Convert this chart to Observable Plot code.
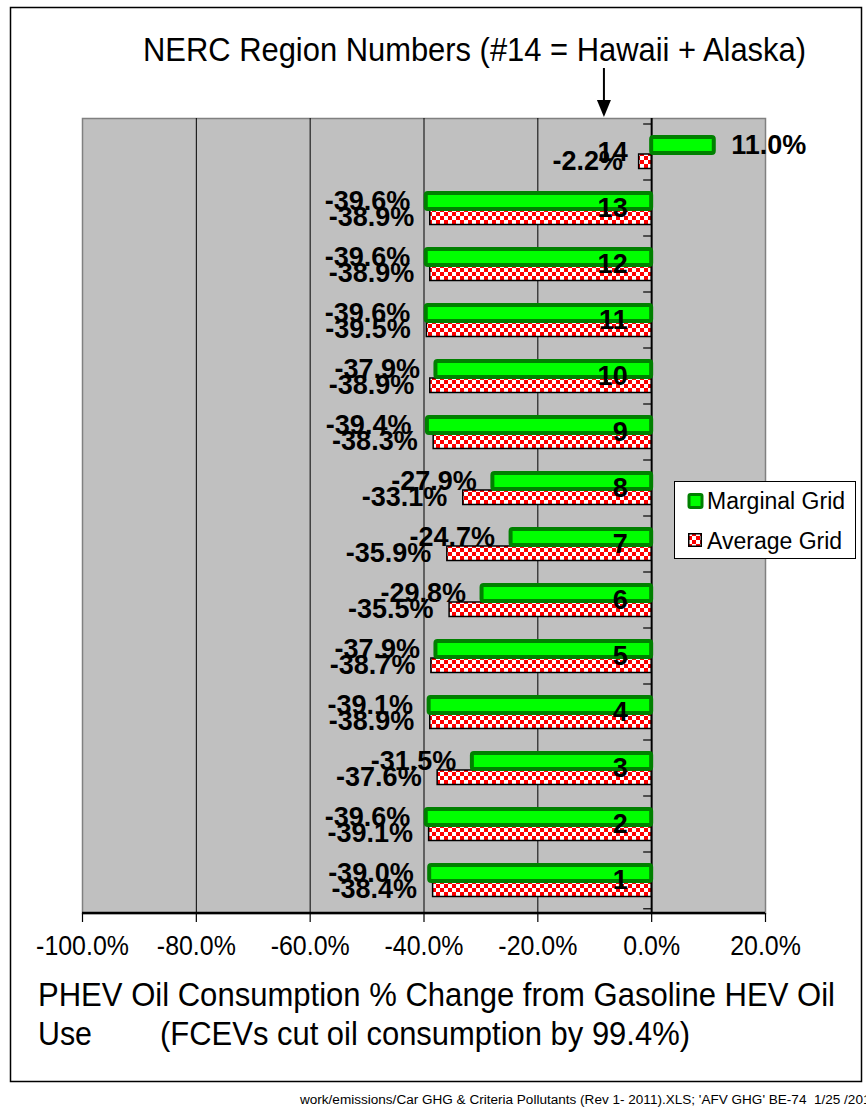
<!DOCTYPE html>
<html><head><meta charset="utf-8">
<script src="https://cdn.jsdelivr.net/npm/d3@7"></script>
<script src="https://cdn.jsdelivr.net/npm/@observablehq/plot@0.6"></script>
<style>
body{margin:0;background:#fff;}
#chart svg{font-family: Arial, "Liberation Sans", sans-serif;}
</style>
</head><body><div id="chart"></div>
<script>
// ---- data ----
const regions = ["1","2","3","4","5","6","7","8","9","10","11","12","13","14"];
const marginalGrid = [-39.0, -39.6, -31.5, -39.1, -37.9, -29.8, -24.7, -27.9, -39.4, -37.9, -39.6, -39.6, -39.6, 11.0];
const averageGrid  = [-38.4, -39.1, -37.6, -38.9, -38.7, -35.5, -35.9, -33.1, -38.3, -38.9, -39.5, -38.9, -38.9, -2.2];
const seriesNames = ["Marginal Grid", "Average Grid"];
const xTicks = [-100, -80, -60, -40, -20, 0, 20];
const gridLines = [-80, -60, -40, -20];
const arrowTarget = -8.3;
const titleText = "NERC Region Numbers (#14 = Hawaii + Alaska)";
const axisTitle1 = "PHEV Oil Consumption % Change from Gasoline HEV Oil";
const axisTitle2a = "Use";
const axisTitle2b = "(FCEVs cut oil consumption by 99.4%)";
const footerText = "work/emissions/Car GHG & Criteria Pollutants (Rev 1- 2011).XLS; 'AFV GHG' BE-74  1/25 /2012";

const rows = regions.map((r, i) => ({region: r, marginal: marginalGrid[i], average: averageGrid[i]}));
const fmt = v => v.toFixed(1) + "%";

const GREEN = "#00FF00", DKGREEN = "#008000", RED = "#FF0000", BG = "#C0C0C0";
const FONT = "Arial, 'Liberation Sans', sans-serif";

// pattern defs
function defsMark() {
  const defs = d3.create("svg:defs");
  const p = defs.append("pattern").attr("id", "checker").attr("patternUnits", "userSpaceOnUse")
    .attr("width", 8).attr("height", 8);
  p.append("rect").attr("width", 8).attr("height", 8).attr("fill", "white");
  p.append("rect").attr("width", 4).attr("height", 4).attr("fill", RED);
  p.append("rect").attr("x", 4).attr("y", 4).attr("width", 4).attr("height", 4).attr("fill", RED);
  return defs.node();
}

function addText(g, txt, x, y, size, opts = {}) {
  const t = g.append("text").attr("x", x).attr("y", y).attr("font-size", size)
    .attr("font-family", FONT).attr("fill", "black")
    .attr("text-anchor", opts.anchor || "start").text(txt);
  if (opts.weight) t.attr("font-weight", opts.weight);
  if (opts.length) t.attr("textLength", opts.length).attr("lengthAdjust", "spacingAndGlyphs");
  return t;
}

// outer frame (drawn first)
function outerFrameMark() {
  const g = d3.create("svg:g");
  g.append("rect").attr("x", 10.5).attr("y", 7.5).attr("width", 851).attr("height", 1074)
    .attr("fill", "white").attr("stroke", "black").attr("stroke-width", 1.5);
  return g.node();
}

// axis lines and category ticks
function axesMark(index, scales, values, dims) {
  const g = d3.create("svg:g");
  const x0 = scales.x(0);
  const left = dims.marginLeft, right = dims.width - dims.marginRight;
  const top = dims.marginTop, bottom = dims.height - dims.marginBottom;
  const bw = (bottom - top) / regions.length;
  const ys = regions.map(r => scales.y(r));
  ys.push(Math.max(...ys) + bw);
  for (const y of ys) {
    g.append("line").attr("x1", x0 - 8).attr("x2", x0).attr("y1", y).attr("y2", y)
      .attr("stroke", "black").attr("stroke-width", 1.2);
  }
  g.append("line").attr("x1", left).attr("x2", right).attr("y1", bottom).attr("y2", bottom)
    .attr("stroke", "black").attr("stroke-width", 2.5);
  return g.node();
}

// title, arrow, axis title, legend, footer
function decorMark(index, scales, values, dims) {
  const g = d3.create("svg:g");
  addText(g, titleText, 143, 61, 34, {length: 663});
  const ax = scales.x(arrowTarget);
  g.append("line").attr("x1", ax).attr("x2", ax).attr("y1", 68).attr("y2", 102)
    .attr("stroke", "black").attr("stroke-width", 2);
  g.append("path").attr("d", `M${ax - 7},100 L${ax + 7},100 L${ax},117 Z`).attr("fill", "black");

  addText(g, axisTitle1, 38, 1006, 34, {length: 797});
  addText(g, axisTitle2a, 38, 1045, 34, {length: 54});
  addText(g, axisTitle2b, 690, 1045, 34, {anchor: "end", length: 530});

  // legend
  const lg = g.append("g");
  lg.append("rect").attr("x", 674.5).attr("y", 481.5).attr("width", 181).attr("height", 77)
    .attr("fill", "white").attr("stroke", "black").attr("stroke-width", 1);
  lg.append("rect").attr("x", 689).attr("y", 494.5).attr("width", 13).attr("height", 13).attr("rx", 1.5)
    .attr("fill", GREEN).attr("stroke", DKGREEN).attr("stroke-width", 3);
  addText(lg, seriesNames[0], 707, 509, 23);
  lg.append("rect").attr("x", 688.75).attr("y", 533.75).attr("width", 12.5).attr("height", 12.5)
    .attr("fill", "url(#checker)").attr("stroke", "black").attr("stroke-width", 1.5);
  addText(lg, seriesNames[1], 707, 549, 23);

  addText(g, footerText, 300, 1104, 12, {length: 578});
  return g.node();
}

const plot = Plot.plot({
  width: 866,
  height: 1112,
  marginLeft: 82,
  marginRight: 101,
  marginTop: 118,
  marginBottom: 199,
  style: {fontFamily: FONT, background: "white", overflow: "visible", color: "black"},
  x: {domain: [-100, 20], ticks: xTicks, tickFormat: fmt},
  y: {domain: regions.slice().reverse(), padding: 0, axis: null},
  marks: [
    defsMark,
    outerFrameMark,
    Plot.frame({fill: BG, stroke: "#808080", strokeWidth: 1.5}),
    Plot.ruleX(gridLines, {stroke: "black", strokeWidth: 1}),
    Plot.ruleX([0], {stroke: "black", strokeWidth: 2}),
    axesMark,
    Plot.axisX({ticks: xTicks, tickFormat: fmt, tickSize: 9, tickPadding: 13, fontSize: 28, stroke: "black", strokeWidth: 1.2}),
    Plot.barX(rows, {x: "average", y: "region", fill: "url(#checker)", stroke: "black", strokeWidth: 1.5,
      insetTop: 30, insetBottom: 11.5}),
    Plot.barX(rows, {x: "marginal", y: "region", fill: GREEN, stroke: DKGREEN, strokeWidth: 4,
      insetTop: 13, insetBottom: 27, rx: 2}),
    Plot.text(rows, {x: 0, y: "region", text: "region", textAnchor: "end", dx: -24, dy: 0,
      fontSize: 27, fontWeight: "bold", fill: "black"}),
    Plot.text(rows.filter(d => d.marginal < 0), {x: "marginal", y: "region", text: d => fmt(d.marginal),
      textAnchor: "end", dx: -16, dy: -7, fontSize: 27, fontWeight: "bold", fill: "black"}),
    Plot.text(rows.filter(d => d.marginal >= 0), {x: "marginal", y: "region", text: d => fmt(d.marginal),
      textAnchor: "start", dx: 17, dy: -7, fontSize: 27, fontWeight: "bold", fill: "black"}),
    Plot.text(rows, {x: "average", y: "region", text: d => fmt(d.average),
      textAnchor: "end", dx: -16, dy: 9, fontSize: 27, fontWeight: "bold", fill: "black"}),
    decorMark
  ]
});

document.getElementById("chart").appendChild(plot);

// condense axis tick labels slightly like the original rendering
plot.querySelectorAll('g[aria-label="x-axis tick label"] text').forEach(t => {
  const w = t.getComputedTextLength();
  t.setAttribute("textLength", (w * 0.89).toFixed(1));
  t.setAttribute("lengthAdjust", "spacingAndGlyphs");
});
</script>
</body></html>
